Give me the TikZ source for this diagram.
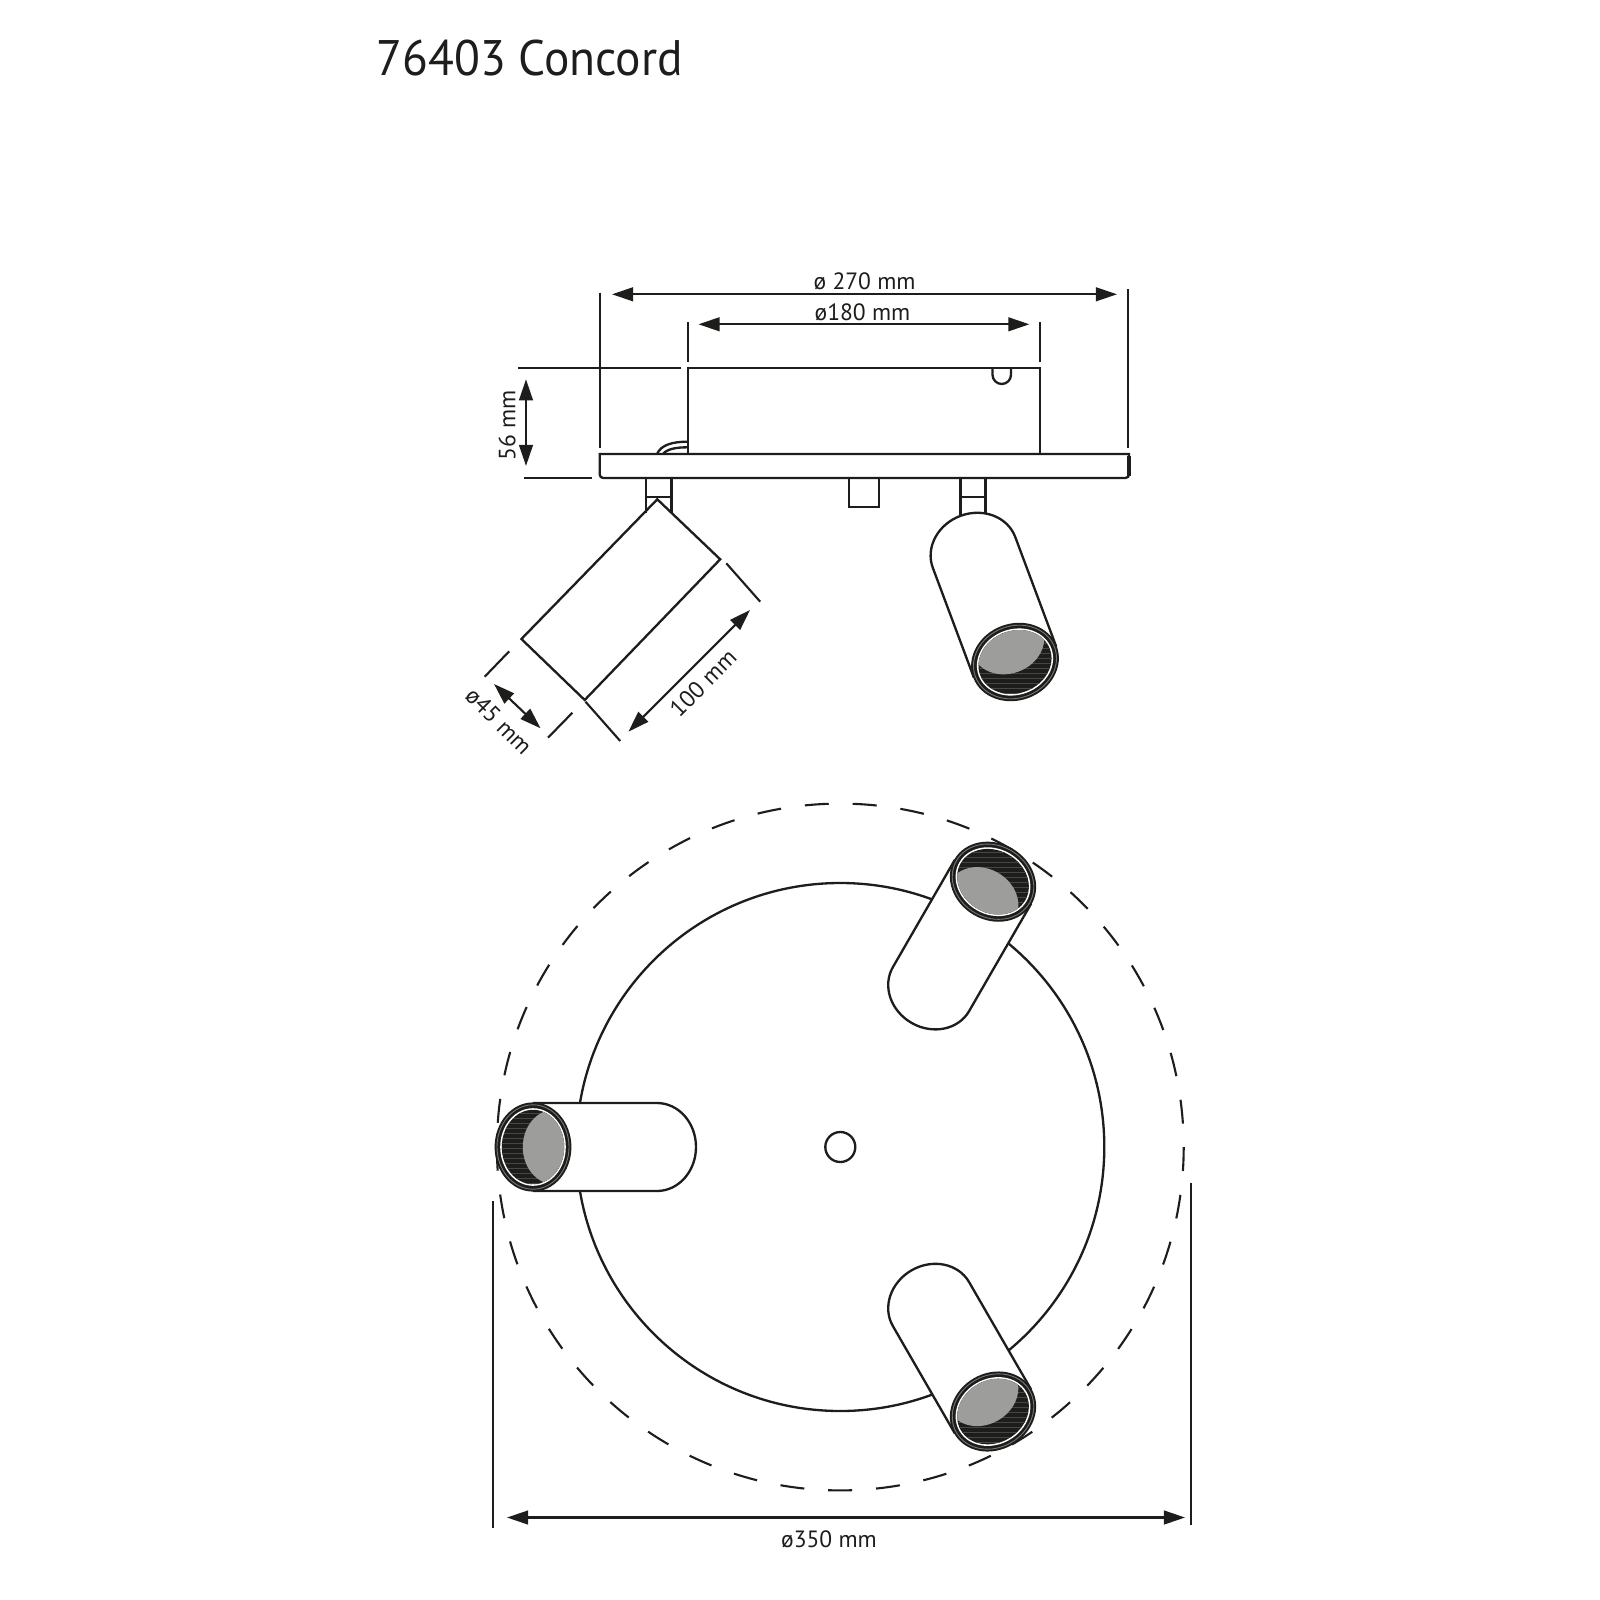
\documentclass[tikz,border=0pt]{standalone}
\usepackage{fontspec}
\setmainfont{PT Sans}
\newfontfamily\titlefont[FakeStretch=0.95]{PT Sans}
\usetikzlibrary{arrows.meta}
\definecolor{ink}{HTML}{1D1D1B}
\definecolor{lensgrey}{HTML}{9D9D9C}
\tikzset{
  px/.style={x=0.01cm,y=-0.01cm},
  line/.style={draw=ink,line width=0.66pt},
  ext/.style={draw=ink,line width=0.6pt},
  dimline/.style={draw=ink,line width=0.6pt,{Triangle[length=6pt,width=3.9pt,fill=ink]}-{Triangle[length=6pt,width=3.9pt,fill=ink]}},
  dimtext/.style={text=ink,font=\fontsize{6.7}{7}\selectfont,inner sep=0pt},
  titletext/.style={text=ink,font=\titlefont\fontsize{14.2}{16}\selectfont,inner sep=0pt}
}
% #1 cx, #2 cy, #3 visual direction lens->cap, #4 straight tube length
\newcommand{\lamphead}[4]{%
  \begin{scope}[shift={(#1,#2)},rotate=#3]
    \path[line,fill=white] (0,44) -- (#4,44) arc[start angle=90,end angle=-90,x radius=39,y radius=44] -- (0,-44);
    \fill[ink] (0,0) ellipse[x radius=38.4,y radius=44.6];
    \draw[white!40!ink,line width=0.25pt] (0,0) ellipse[x radius=36,y radius=42.2];
    \fill[white] (0,0) ellipse[x radius=32.8,y radius=38.8];
    \fill[ink] (0,0) ellipse[x radius=31.2,y radius=37.2];
    \begin{scope}
      \clip (0,0) ellipse[x radius=31.2,y radius=37.2];
      \foreach \s in {-44,-39,...,44}{\draw[white!18!ink,line width=0.2pt,rotate=-#3] (-50,\s) -- (50,\s);}
      \fill[lensgrey] (21,0) ellipse[x radius=31.2,y radius=37.2];
    \end{scope}
  \end{scope}}
\begin{document}
\begin{tikzpicture}[px]
\useasboundingbox (0,0) rectangle (1600,1600);
% title
\node[titletext,anchor=base west] (title) at (376,75.5) {76403 Concord};
% side view: dimensions
\coordinate (a1) at (612,294.3); \coordinate (a2) at (1117,294.3);
\draw[dimline] (a1) -- (a2);
\coordinate (b1) at (698.5,324.3); \coordinate (b2) at (1029.4,324.3);
\draw[dimline] (b1) -- (b2);
\draw[ext] (599.7,292.7) -- (599.7,448.3);
\draw[ext] (1128.3,289.3) -- (1128.3,448.3);
\draw[ext] (687.7,322.3) -- (687.7,361.7);
\draw[ext] (1040,322.3) -- (1040,361.7);
\draw[ext] (517.7,368.3) -- (681,368.3);
\draw[ext] (524,478) -- (592,478);
\coordinate (c1) at (526,379.3); \coordinate (c2) at (526,466);
\draw[dimline] (c1) -- (c2);
\node[dimtext] (t270) at (864.6,281) {ø 270 mm};
\node[dimtext] (t180) at (862.5,312) {ø180 mm};
\node[dimtext,rotate=90] (t56) at (507,425.6) {56 mm};
% side view: body
\draw[line] (687.7,454) -- (687.7,368.3) -- (1040,368.3) -- (1040,454);
\draw[line] (992.5,368.3) -- (992.5,374.75) arc[start angle=180,end angle=0,radius=9.25] -- (1011,368.3);
\draw[line] (657,454) .. controls (661,445) and (672,441.7) .. (687.7,441.7);
\draw[line] (663,454) .. controls (667,449) and (676,447.3) .. (687.7,447.3);
\draw[line] (599.7,454) -- (1129,454) {[rounded corners=1pt] -- (1129,478) -- (599.7,478)} -- cycle;
\draw[draw=ink,line width=1pt] (1128.8,456) -- (1128.8,476);
% stems
\draw[line] (646.3,478) -- (646.3,513);
\draw[line] (671.6,478) -- (671.6,513);
\draw[line] (646.3,497.3) -- (671.6,497.3);
\draw[line] (849,478) -- (849,507) -- (879,507) -- (879,478);
\draw[line] (960.5,478) -- (960.5,520);
\draw[line] (985.6,478) -- (985.6,520);
\draw[line] (960.5,497.3) -- (985.6,497.3);
% tilted lamp, outline only
\draw[line] (657.3,499.3) -- (720.2,559.3) -- (584.7,700) -- (521.4,639) -- cycle;
\draw[ext] (726.3,563.3) -- (760.2,601.7);
\draw[ext] (585.5,701.7) -- (620.2,741);
\coordinate (d1) at (750,610); \coordinate (d2) at (628.4,731.7);
\draw[dimline] (d1) -- (d2);
\node[dimtext,rotate=45] (t100) at (703,683) {100 mm};
\draw[ext] (509.2,651.3) -- (484.7,676.7);
\draw[ext] (572.4,712.7) -- (548,737.7);
\coordinate (e1) at (494,684); \coordinate (e2) at (540.6,728.3);
\draw[dimline] (e1) -- (e2);
\node[dimtext,rotate=-45] (t45) at (499,721) {ø45 mm};
% side view lit lamp
\lamphead{1015}{662}{110.5}{117}
% top view
\coordinate (ctr) at (840.3,1147);
\draw[draw=ink,line width=0.6pt,dash pattern=on 6.82pt off 6.82pt] (ctr) ++(0:343.4) arc[start angle=0,end angle=360,radius=343.4];
\draw[line] (ctr) circle[radius=264];
\draw[line] (ctr) circle[radius=15];
\lamphead{993}{881.7}{-120}{124}
\lamphead{993}{1411.5}{120}{124}
\lamphead{533}{1147}{0}{124}
% bottom dimension
\draw[ext] (493,1201) -- (493,1527.6);
\draw[ext] (1191,1182.6) -- (1191,1525);
\coordinate (f1) at (507,1517.5); \coordinate (f2) at (1185,1517.5);
\draw[dimline] (f1) -- (f2);
\node[dimtext] (t350) at (829,1539.5) {ø350 mm};
\end{tikzpicture}
\end{document}
